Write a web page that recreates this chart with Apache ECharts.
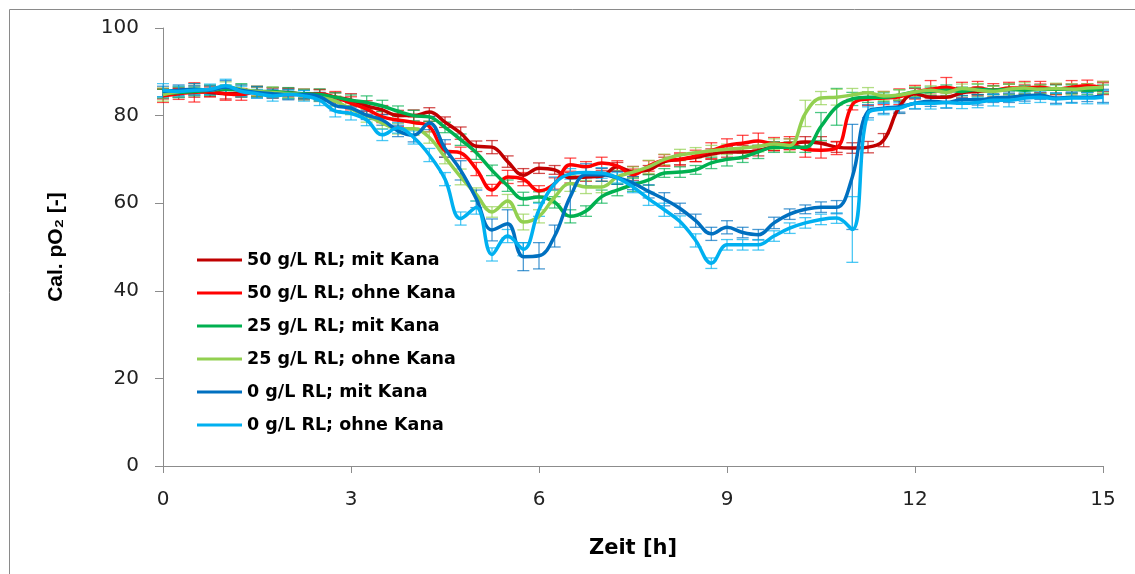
<!DOCTYPE html>
<html>
<head>
    <meta charset="utf-8">
    <title>Cal. pO2</title>
    <script src="https://cdn.jsdelivr.net/npm/echarts@6/dist/echarts.min.js"></script>
    <style type="text/css">
        html, body {
            margin: 0;
            padding: 0;
            background: #fff;
        }

        #main {
            width: 1135px;
            height: 574px;
        }
    </style>
</head>
<body>
<div id="main"></div>
<script>
    // Zeitpunkte [h], alle 0.25 h
    var hours = [
        0, 0.25, 0.5, 0.75, 1, 1.25, 1.5, 1.75, 2, 2.25, 2.5, 2.75,
        3, 3.25, 3.5, 3.75, 4, 4.25, 4.5, 4.75, 5, 5.25, 5.5, 5.75,
        6, 6.25, 6.5, 6.75, 7, 7.25, 7.5, 7.75, 8, 8.25, 8.5, 8.75,
        9, 9.25, 9.5, 9.75, 10, 10.25, 10.5, 10.75, 11, 11.25, 11.5, 11.75,
        12, 12.25, 12.5, 12.75, 13, 13.25, 13.5, 13.75, 14, 14.25, 14.5, 14.75,
        15
    ];

    var names = [
        '50 g/L RL; mit Kana',
        '50 g/L RL; ohne Kana',
        '25 g/L RL; mit Kana',
        '25 g/L RL; ohne Kana',
        '0 g/L RL; mit Kana',
        '0 g/L RL; ohne Kana'
    ];

    var rl50mit = [
        85, 85.2, 85.5, 85.3, 85, 85.2, 85.5, 85.3, 85, 85, 84.8, 84.2,
        83.5, 82.2, 81.3, 80, 80, 80.8, 78.5, 76, 73, 72.8, 69.5, 66.4,
        68, 67.6, 65.8, 66, 66.2, 68.3, 67.2, 67.6, 69.5, 70, 70.5, 71.2,
        71.7, 71.7, 72, 73, 73.5, 74, 73.7, 72.8, 72.6, 72.8, 74.4, 82,
        85, 84.2, 84.2, 85.2, 85.5, 85.8, 86, 86, 86.2, 86, 86.2, 86.3,
        86.5
    ];
    var rl50ohne = [
        84.5, 85, 85.3, 85.5, 85, 84.8, 85.5, 85.2, 85.3, 84.8, 85, 84.2,
        82.8, 81.5, 79.7, 79, 78.4, 77.5, 72, 71.5, 67.8, 63, 66, 65.5,
        62.8, 64.5, 68.8, 68.3, 69.2, 68.5, 66.5, 68.5, 69.8, 70, 70.8, 72,
        73.2, 73.7, 74.2, 73.5, 73.7, 72.3, 72.1, 72.6, 82.5, 83.8, 84, 84.3,
        85.4, 86, 86.5, 85.8, 86.3, 85.8, 86.3, 86.3, 86.5, 86, 86.5, 86.8,
        86.3
    ];
    var rl25mit = [
        85, 85.3, 85.5, 85.8, 86, 85.8, 85.5, 85.5, 85.2, 85, 84.8, 84.2,
        83.5, 83, 82.2, 81, 80, 79.7, 77.3, 74.5, 71.5, 67.5, 64, 61,
        61.4, 60.2, 57, 58.2, 61.5, 63, 64.2, 65.3, 66.9, 67.1, 67.6, 69.2,
        70, 70.5, 71.7, 72.8, 72.8, 72.8, 77.5, 82, 83.8, 84.2, 84.2, 84.7,
        85.4, 85.5, 85.8, 85.5, 86, 85.8, 86, 85.8, 86, 86, 86, 85.8,
        86
    ];
    var rl25ohne = [
        84.8, 85.5, 86, 85.8, 86.5, 86, 85.5, 85.3, 85, 84.8, 84.2, 83.3,
        81.5, 80, 78.3, 77, 77, 75, 70.5, 66, 62, 58, 60.5, 55.7,
        57, 61.4, 64.5, 63.7, 63.7, 66, 67.1, 68.3, 70, 71, 71.5, 72,
        72.3, 72.6, 73, 73.5, 73.2, 80.5, 84, 84.2, 84.7, 85.2, 84.5, 84.7,
        85.4, 85.8, 85.3, 86.2, 85.8, 85.5, 86, 86.3, 86, 86.2, 86, 86.3,
        86.5
    ];
    var rl0mit = [
        85.5, 85.8, 86, 85.8, 86.5, 85.8, 85.3, 85, 84.8, 84.8, 84.3, 82.3,
        81.7, 80.1, 79, 76.5, 75.5, 78.3, 72.5, 67.5, 61, 53.9, 55.3, 47.8,
        48, 52.5, 61.5, 66.5, 66.5, 65.8, 64.6, 62.7, 60.9, 58.8, 56, 53,
        54.5, 53.3, 52.8, 55.5, 57.5, 58.6, 59.1, 59.1, 66, 81, 81.7, 82,
        82.8, 83.3, 83, 83.6, 83.6, 84, 84.2, 84.5, 84.7, 84, 84.2, 84.2,
        84.5
    ];
    var rl0ohne = [
        85.8, 85.5, 85.8, 86, 86.8, 85.5, 85, 84.5, 84.8, 84.5, 83.5, 81,
        80.5, 79, 75.6, 77.2, 75, 71, 65.5, 56.5, 59, 48.3, 52.5, 49.5,
        58.5, 64.5, 66.7, 67, 66.9, 65.8, 63.7, 61, 58.5, 55.8, 51.5, 46.3,
        50.5, 50.5, 50.5, 52.5, 54.3, 55.5, 56.3, 56.6, 54, 80.5, 81.5, 81.7,
        82.8, 82.8, 83, 82.8, 83, 83.5, 83.5, 84, 84.2, 83.8, 84, 84,
        84.2
    ];

    // Standardabweichungen (Fehlerbalken, +/-)
    var err50mit = [
        1.2, 1.0, 1.3, 1.0, 1.2, 1.0, 1.2, 1.0, 1.2, 1.0, 1.1, 1.0,
        1.5, 1.2, 1.0, 1.2, 1.3, 1.0, 1.2, 1.4, 1.2, 1.5, 1.3, 1.5,
        1.2, 1.0, 1.2, 1.0, 1.2, 1.0, 1.2, 1.0, 1.0, 1.2, 1.0, 1.2,
        1.2, 1.5, 1.2, 1.0, 1.2, 1.2, 1.5, 1.2, 1.2, 1.3, 1.5, 1.5,
        1.2, 1.0, 1.0, 1.2, 1.0, 1.0, 1.2, 1.0, 1.0, 1.2, 1.0, 1.0,
        1.0
    ];
    var err50ohne = [
        1.5, 1.3, 2.2, 1.2, 1.5, 1.3, 1.0, 1.2, 1.0, 1.2, 1.0, 1.3,
        1.5, 1.2, 1.3, 1.5, 1.3, 1.2, 1.5, 1.3, 1.5, 1.3, 1.5, 1.5,
        1.2, 1.3, 1.5, 1.2, 1.3, 1.2, 1.3, 1.2, 1.3, 1.5, 1.3, 1.8,
        1.5, 1.8, 1.8, 1.5, 1.5, 1.8, 1.8, 1.5, 1.2, 1.5, 1.5, 1.8,
        1.5, 2.0, 2.2, 1.8, 1.5, 1.5, 1.3, 1.5, 1.3, 1.2, 1.5, 1.3,
        1.5
    ];
    var err25mit = [
        1.0, 1.2, 1.0, 1.2, 1.0, 1.5, 1.2, 1.0, 1.2, 1.0, 1.3, 1.0,
        1.2, 1.5, 1.3, 1.2, 1.2, 1.0, 1.2, 1.3, 1.5, 1.2, 1.3, 1.5,
        1.2, 1.3, 1.5, 1.2, 1.5, 1.3, 1.5, 1.2, 1.0, 1.2, 1.0, 1.3,
        1.5, 1.2, 1.5, 1.2, 1.2, 1.2, 3.2, 4.2, 1.5, 1.2, 1.0, 1.2,
        1.0, 1.0, 1.2, 1.0, 1.2, 1.0, 1.2, 1.0, 1.0, 1.0, 1.0, 1.0,
        1.0
    ];
    var err25ohne = [
        1.5, 1.2, 1.3, 1.0, 1.2, 1.0, 1.0, 1.2, 1.0, 1.2, 1.0, 1.2,
        1.3, 1.5, 1.3, 1.2, 1.5, 1.3, 1.5, 1.8, 1.5, 1.2, 1.5, 1.8,
        1.5, 1.5, 1.8, 1.5, 1.3, 1.5, 1.2, 1.5, 1.2, 1.3, 1.2, 1.2,
        1.2, 1.2, 1.3, 1.2, 1.5, 3.0, 1.5, 1.8, 1.5, 1.2, 1.0, 1.2,
        1.2, 1.0, 1.2, 1.0, 1.5, 1.2, 1.2, 1.2, 1.0, 1.2, 1.3, 1.0,
        1.3
    ];
    var err0mit = [
        1.2, 1.2, 1.3, 1.0, 1.5, 1.2, 1.3, 1.0, 1.2, 1.0, 1.0, 1.2,
        1.3, 1.0, 1.2, 1.3, 1.5, 1.5, 2.0, 2.2, 2.0, 2.5, 3.2, 3.2,
        3.0, 2.5, 4.5, 2.5, 1.5, 1.5, 1.5, 1.5, 1.5, 1.2, 1.5, 1.5,
        1.5, 1.2, 1.2, 1.3, 1.2, 1.0, 1.2, 1.5, 12, 1.5, 1.2, 1.2,
        1.3, 1.2, 1.3, 1.0, 1.2, 1.0, 1.2, 1.2, 1.0, 1.2, 1.2, 1.0,
        1.5
    ];
    var err0ohne = [
        1.5, 1.2, 1.0, 1.2, 1.5, 1.2, 1.0, 1.2, 1.0, 1.2, 1.2, 1.3,
        1.5, 1.3, 1.3, 1.2, 1.5, 1.5, 1.5, 1.5, 1.5, 1.5, 1.5, 1.5,
        1.5, 1.5, 1.2, 1.2, 1.2, 1.2, 1.3, 1.5, 1.5, 1.3, 1.5, 1.2,
        1.2, 1.2, 1.2, 1.2, 1.2, 1.2, 1.2, 1.2, 7.5, 1.5, 1.3, 1.2,
        1.2, 1.3, 1.2, 1.2, 1.2, 1.3, 1.5, 1.2, 1.2, 1.3, 1.2, 1.3,
        1.5
    ];

    var values = [rl50mit, rl50ohne, rl25mit, rl25ohne, rl0mit, rl0ohne];
    var errors = [err50mit, err50ohne, err25mit, err25ohne, err0mit, err0ohne];
    var colors = ['#c00000', '#ff0000', '#00b050', '#92d050', '#0070c0', '#00b0f0'];

    var myChart = echarts.init(document.getElementById('main'));

    var series = [];
    // Fehlerbalken zuerst, damit die Linien darueber liegen
    values.forEach(function (vals, k) {
        var errData = hours.map(function (h, i) {
            return [h, vals[i] - errors[k][i], vals[i] + errors[k][i]];
        });
        series.push({
            name: names[k],
            type: 'custom',
            z: 1,
            silent: true,
            color: colors[k],
            itemStyle: {color: colors[k]},
            data: errData,
            renderItem: function (params, api) {
                var x = api.value(0);
                var lo = api.coord([x, api.value(1)]);
                var hi = api.coord([x, api.value(2)]);
                var st = {stroke: colors[k], lineWidth: 1.3, opacity: 0.7};
                return {
                    type: 'group',
                    children: [
                        {type: 'line', shape: {x1: lo[0], y1: lo[1], x2: hi[0], y2: hi[1]}, style: st},
                        {type: 'line', shape: {x1: lo[0] - 6, y1: lo[1], x2: lo[0] + 6, y2: lo[1]}, style: st},
                        {type: 'line', shape: {x1: hi[0] - 6, y1: hi[1], x2: hi[0] + 6, y2: hi[1]}, style: st}
                    ]
                };
            }
        });
    });
    values.forEach(function (vals, k) {
        series.push({
            name: names[k],
            type: 'line',
            z: 2,
            smooth: 0.4,
            showSymbol: false,
            color: colors[k],
            lineStyle: {width: 3.5, color: colors[k]},
            data: hours.map(function (h, i) {
                return [h, vals[i]];
            })
        });
    });

    var option = {
        animation: false,
        backgroundColor: '#fff',
        graphic: [{
            type: 'rect',
            left: 7,
            top: 7,
            shape: {width: 1200, height: 600},
            style: {fill: 'none', stroke: '#8a8a8a', lineWidth: 1}
        }],
        grid: {
            left: 163,
            right: 32,
            top: 28,
            bottom: 108
        },
        legend: {
            orient: 'vertical',
            left: 197,
            top: 250,
            padding: 0,
            itemWidth: 45,
            itemHeight: 3,
            itemGap: 13,
            icon: 'rect',
            data: names.map(function (n, k) {
                return {name: n, itemStyle: {color: colors[k]}};
            }),
            textStyle: {
                fontFamily: 'DejaVu Sans',
                fontWeight: 'bold',
                fontSize: 17.5,
                lineHeight: 20,
                color: '#000'
            }
        },
        xAxis: {
            type: 'value',
            min: 0,
            max: 15,
            interval: 3,
            name: 'Zeit [h]',
            nameLocation: 'middle',
            nameGap: 72,
            nameTextStyle: {
                fontFamily: 'DejaVu Sans',
                fontWeight: 'bold',
                fontSize: 21,
                color: '#000'
            },
            axisLine: {lineStyle: {color: '#8c8c8c', width: 1}},
            axisTick: {show: true, length: 7, lineStyle: {color: '#8c8c8c'}},
            axisLabel: {
                margin: 24,
                fontFamily: 'DejaVu Sans',
                fontSize: 20,
                color: '#222'
            },
            splitLine: {show: false}
        },
        yAxis: {
            type: 'value',
            min: 0,
            max: 100,
            interval: 20,
            name: 'Cal. pO₂ [-]',
            nameLocation: 'middle',
            nameGap: 96,
            nameRotate: 90,
            nameTextStyle: {
                fontFamily: 'Liberation Sans',
                fontWeight: 'bold',
                fontSize: 21,
                color: '#000'
            },
            axisLine: {show: true, lineStyle: {color: '#8c8c8c', width: 1}},
            axisTick: {show: true, length: 8, lineStyle: {color: '#8c8c8c'}},
            axisLabel: {
                margin: 24,
                fontFamily: 'DejaVu Sans',
                fontSize: 20,
                color: '#222'
            },
            splitLine: {show: false}
        },
        series: series
    };
    myChart.setOption(option);
</script>
</body>
</html>
